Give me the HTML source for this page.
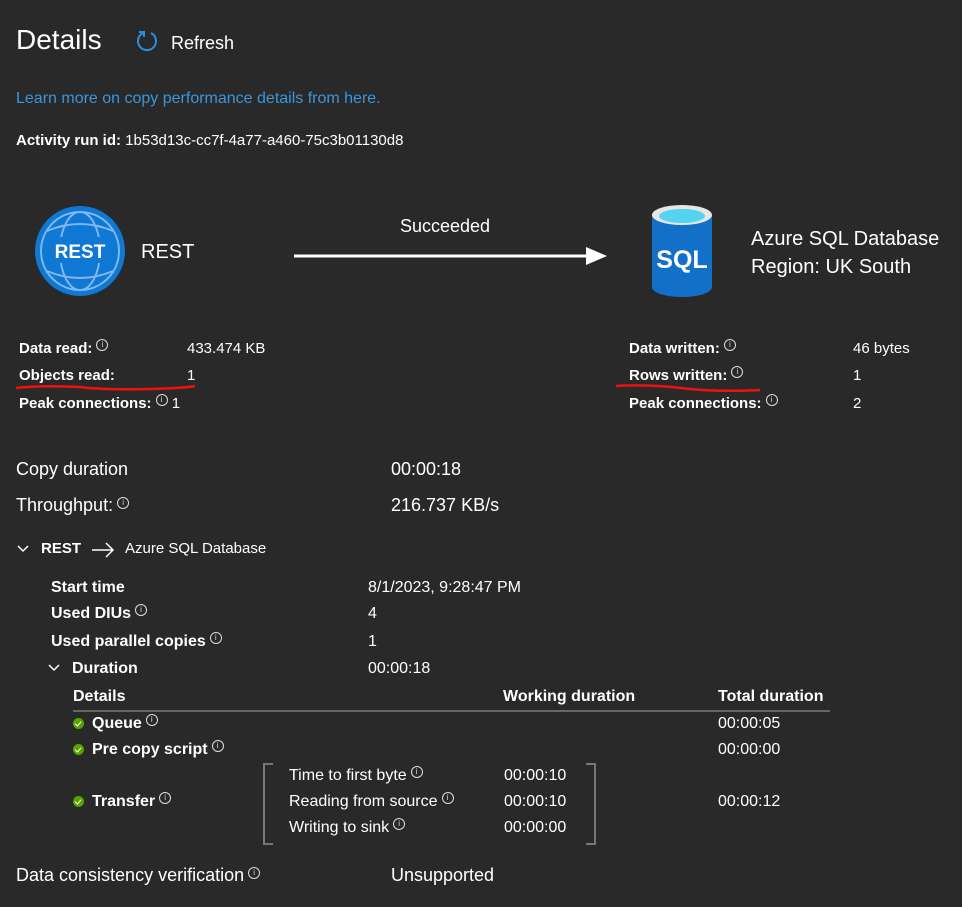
<!DOCTYPE html>
<html><head><meta charset="utf-8"><style>
body{margin:0;width:962px;height:907px;background:#292929;color:#fff;font-family:"Liberation Sans",sans-serif;position:relative;overflow:hidden}
.t{position:absolute;white-space:nowrap;line-height:20px;height:20px}
.b{font-weight:bold}
.i{display:inline-block;width:10px;height:10px;border:1px solid #ddd;border-radius:50%;font-size:8px;line-height:10px;text-align:center;vertical-align:6px;margin-left:4px;font-weight:normal;color:#ddd}
.ck{position:absolute;width:11px;height:11px;border-radius:50%;background:#57a300}
.ck:after{content:"";position:absolute;left:3px;top:2px;width:3px;height:5px;border:solid #fff;border-width:0 1.5px 1.5px 0;transform:rotate(40deg)}
</style></head><body>
<div class="t" style="left:16px;top:26px;font-size:28px;line-height:28px;height:28px;font-weight:300">Details</div>
<svg style="position:absolute;left:135px;top:29px" width="24" height="24"><path d="M8 4 A9 9 0 1 0 16 4" fill="none" stroke="#2b8fe0" stroke-width="2"/><path d="M4 3 L9 3 L9 8" fill="none" stroke="#2b8fe0" stroke-width="2"/></svg>
<div class="t" style="left:171px;top:33px;font-size:18px">Refresh</div>
<div class="t" style="left:16px;top:89px;font-size:16px;color:#3a96dd">Learn more on copy performance details from here.</div>
<div class="t" style="left:16px;top:131px;font-size:15px"><b>Activity run id:</b> 1b53d13c-cc7f-4a77-a460-75c3b01130d8</div>

<svg style="position:absolute;left:34px;top:205px" width="92" height="92" viewBox="0 0 92 92">
<circle cx="46" cy="46" r="45" fill="#0f78d4"/>
<circle cx="46" cy="46" r="39" fill="none" stroke="#7fb8ee" stroke-width="2"/>
<ellipse cx="46" cy="46" rx="20" ry="39" fill="none" stroke="#7fb8ee" stroke-width="2"/>
<path d="M13 26 Q46 12 79 26 M13 66 Q46 80 79 66" fill="none" stroke="#7fb8ee" stroke-width="2"/>
<rect x="14" y="32" width="64" height="26" fill="#0f78d4"/>
<text x="46" y="53" font-family="Liberation Sans" font-weight="bold" font-size="19" fill="#fff" text-anchor="middle">REST</text>
</svg>
<div class="t" style="left:141px;top:242px;font-size:20px">REST</div>
<div class="t" style="left:400px;top:216px;font-size:18px">Succeeded</div>
<svg style="position:absolute;left:290px;top:244px" width="320" height="24"><line x1="4" y1="12" x2="300" y2="12" stroke="#fff" stroke-width="3"/><path d="M296 3 L317 12 L296 21Z" fill="#fff"/></svg>

<svg style="position:absolute;left:650px;top:203px" width="64" height="96" viewBox="0 0 64 96">
<path d="M2 12 L2 84 A30 10 0 0 0 62 84 L62 12Z" fill="#1370c8"/>
<ellipse cx="32" cy="12" rx="30" ry="10" fill="#e6e6e6"/>
<ellipse cx="32" cy="13" rx="23" ry="7" fill="#55d3f2"/>
<text x="32" y="65" font-family="Liberation Sans" font-weight="bold" font-size="25" fill="#fff" text-anchor="middle">SQL</text>
</svg>
<div class="t" style="left:751px;top:229px;font-size:20px">Azure SQL Database</div>
<div class="t" style="left:751px;top:257px;font-size:20px">Region: UK South</div>

<div class="t b" style="left:19px;top:339px;font-size:15px">Data read:<span class="i">i</span></div>
<div class="t" style="left:187px;top:339px;font-size:15px">433.474 KB</div>
<div class="t b" style="left:19px;top:366px;font-size:15px">Objects read:</div>
<div class="t" style="left:187px;top:366px;font-size:15px">1</div>
<div class="t b" style="left:19px;top:394px;font-size:15px">Peak connections:<span class="i">i</span> <span style="font-weight:normal">1</span></div>
<div class="t b" style="left:629px;top:339px;font-size:15px">Data written:<span class="i">i</span></div>
<div class="t" style="left:853px;top:339px;font-size:15px">46 bytes</div>
<div class="t b" style="left:629px;top:366px;font-size:15px">Rows written:<span class="i">i</span></div>
<div class="t" style="left:853px;top:366px;font-size:15px">1</div>
<div class="t b" style="left:629px;top:394px;font-size:15px">Peak connections:<span class="i">i</span></div>
<div class="t" style="left:853px;top:394px;font-size:15px">2</div>
<svg style="position:absolute;left:0;top:380px" width="962" height="20"><path d="M16 8 Q40 5 80 7 Q100 10 150 9 Q185 8 195 6" fill="none" stroke="#e11" stroke-width="2.5"/><path d="M616 6 Q650 4 690 9 Q720 12 760 10" fill="none" stroke="#e11" stroke-width="2.5"/></svg>

<div class="t" style="left:16px;top:459px;font-size:18px">Copy duration</div>
<div class="t" style="left:391px;top:459px;font-size:18px">00:00:18</div>
<div class="t" style="left:16px;top:495px;font-size:18px">Throughput:<span class="i">i</span></div>
<div class="t" style="left:391px;top:495px;font-size:18px">216.737 KB/s</div>

<svg style="position:absolute;left:16px;top:540px" width="110" height="20"><path d="M2 6 L7 11 L12 6" fill="none" stroke="#fff" stroke-width="1.5"/><path d="M76 10 L97 10 M90 3 L97 10 L90 17" fill="none" stroke="#fff" stroke-width="1.5"/></svg>
<div class="t b" style="left:41px;top:539px;font-size:15px">REST</div>
<div class="t" style="left:125px;top:539px;font-size:15px">Azure SQL Database</div>

<div class="t b" style="left:51px;top:578px;font-size:16px">Start time</div>
<div class="t" style="left:368px;top:578px;font-size:16px">8/1/2023, 9:28:47 PM</div>
<div class="t b" style="left:51px;top:604px;font-size:16px">Used DIUs<span class="i">i</span></div>
<div class="t" style="left:368px;top:604px;font-size:16px">4</div>
<div class="t b" style="left:51px;top:632px;font-size:16px">Used parallel copies<span class="i">i</span></div>
<div class="t" style="left:368px;top:632px;font-size:16px">1</div>
<svg style="position:absolute;left:47px;top:660px" width="16" height="16"><path d="M2 5 L7 10 L12 5" fill="none" stroke="#fff" stroke-width="1.5"/></svg>
<div class="t b" style="left:72px;top:659px;font-size:16px">Duration</div>
<div class="t" style="left:368px;top:659px;font-size:16px">00:00:18</div>

<div class="t b" style="left:73px;top:687px;font-size:16px">Details</div>
<div class="t b" style="left:503px;top:687px;font-size:16px">Working duration</div>
<div class="t b" style="left:718px;top:687px;font-size:16px">Total duration</div>
<div style="position:absolute;left:73px;top:710px;width:757px;height:2px;background:#666"></div>

<div class="ck" style="left:73px;top:718px"></div>
<div class="t b" style="left:92px;top:714px;font-size:16px">Queue<span class="i">i</span></div>
<div class="t" style="left:718px;top:714px;font-size:16px">00:00:05</div>
<div class="ck" style="left:73px;top:744px"></div>
<div class="t b" style="left:92px;top:740px;font-size:16px">Pre copy script<span class="i">i</span></div>
<div class="t" style="left:718px;top:740px;font-size:16px">00:00:00</div>
<div class="ck" style="left:73px;top:796px"></div>
<div class="t b" style="left:92px;top:792px;font-size:16px">Transfer<span class="i">i</span></div>
<div class="t" style="left:718px;top:792px;font-size:16px">00:00:12</div>

<div style="position:absolute;left:263px;top:763px;width:8px;height:78px;border:2px solid #777;border-right:none"></div>
<div style="position:absolute;left:586px;top:763px;width:8px;height:78px;border:2px solid #777;border-left:none"></div>
<div class="t" style="left:289px;top:766px;font-size:16px">Time to first byte<span class="i">i</span></div>
<div class="t" style="left:504px;top:766px;font-size:16px">00:00:10</div>
<div class="t" style="left:289px;top:792px;font-size:16px">Reading from source<span class="i">i</span></div>
<div class="t" style="left:504px;top:792px;font-size:16px">00:00:10</div>
<div class="t" style="left:289px;top:818px;font-size:16px">Writing to sink<span class="i">i</span></div>
<div class="t" style="left:504px;top:818px;font-size:16px">00:00:00</div>

<div class="t" style="left:16px;top:865px;font-size:18px">Data consistency verification<span class="i">i</span></div>
<div class="t" style="left:391px;top:865px;font-size:18px">Unsupported</div>
</body></html>
